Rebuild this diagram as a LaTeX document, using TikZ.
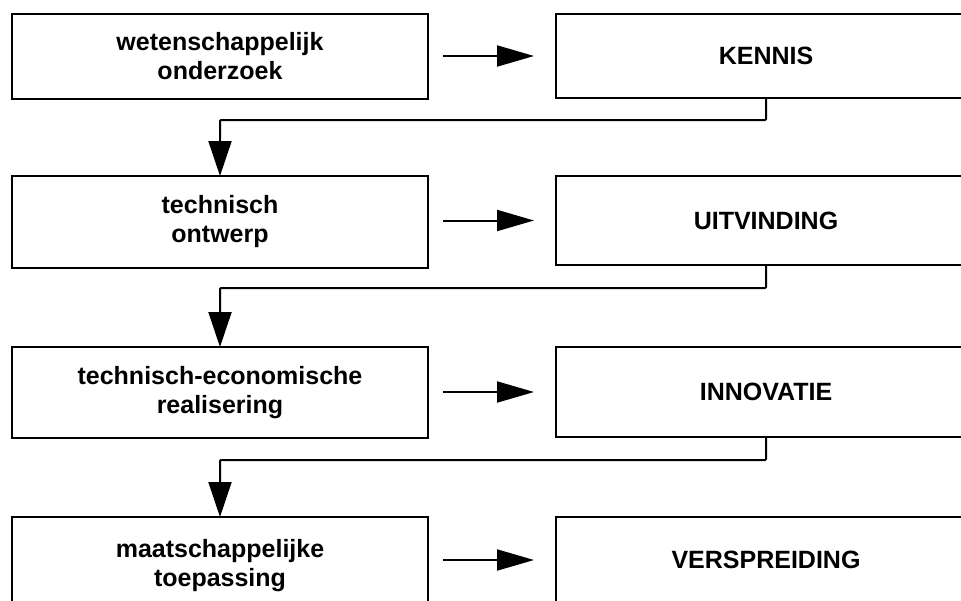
\documentclass[tikz,border=0pt]{standalone}
\usepackage{fontspec}
\setmainfont{Liberation Sans}
\usetikzlibrary{arrows.meta}
\begin{document}
\begin{tikzpicture}[x=1pt,y=-1pt,
  every node/.style={inner sep=0pt, outer sep=0pt},
  phase/.style={draw, line width=2.2pt, minimum width=#1, align=center,
    font=\fontsize{25}{29}\selectfont\bfseries},
  leftbox/.style={phase=416pt},
  rightbox/.style={phase=420pt},
  flow/.style={line width=2pt, -{Triangle[length=37pt,width=21pt]},
    shorten <=15pt, shorten >=22pt},
  feed/.style={line width=2pt, rounded corners=1pt, -{Triangle[length=35pt,width=23pt]}}
]
\useasboundingbox (0,0) rectangle (961,600);
\clip (0,0) rectangle (961,600);

% left column: activities
\node[leftbox, minimum height=85pt] (L1) at (220,56.5) {wetenschappelijk\\onderzoek};
\node[leftbox, minimum height=92pt] (L2) at (220,222) {technisch\\ontwerp};
\node[leftbox, minimum height=91pt] (L3) at (220,392.5) {technisch-economische\\realisering};
\node[leftbox, minimum height=98pt] (L4) at (220,566) {maatschappelijke\\toepassing};

% right column: results
\node[rightbox, minimum height=84pt] (R1) at (766,56) {KENNIS};
\node[rightbox, minimum height=89pt] (R2) at (766,220.5) {UITVINDING};
\node[rightbox, minimum height=90pt] (R3) at (766,392) {INNOVATIE};
\node[rightbox, minimum height=86pt] (R4) at (766,560) {VERSPREIDING};

% activity -> result
\draw[flow] (R1.west -| L1.east) -- (R1.west);
\draw[flow] (R2.west -| L2.east) -- (R2.west);
\draw[flow] (R3.west -| L3.east) -- (R3.west);
\draw[flow] (R4.west -| L4.east) -- (R4.west);

% result feeds the next activity
\draw[feed] (R1.south) -- ++(0,22) -| (L2.north);
\draw[feed] (R2.south) -- ++(0,23) -| (L3.north);
\draw[feed] (R3.south) -- ++(0,23) -| (L4.north);
\end{tikzpicture}
\end{document}
